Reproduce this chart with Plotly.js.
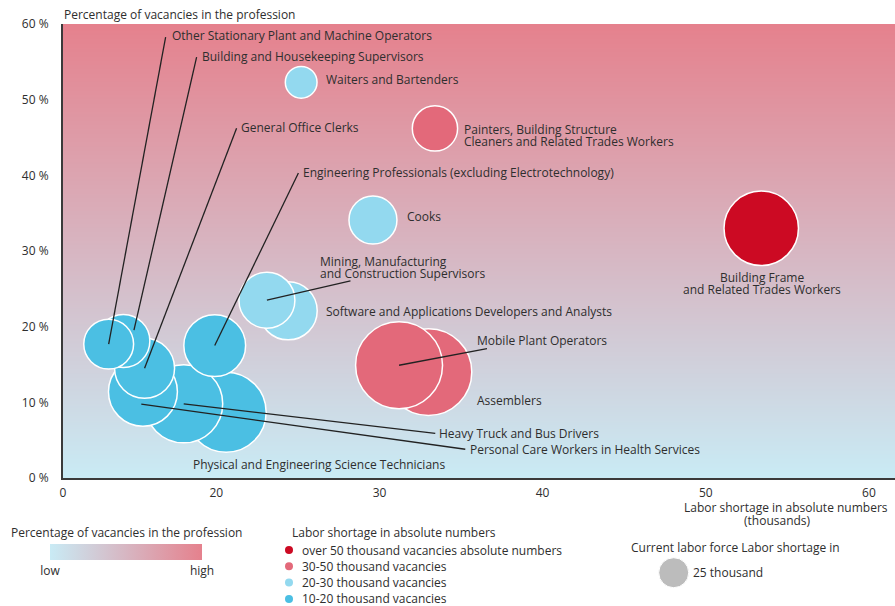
<!DOCTYPE html>
<html>
<head>
<meta charset="utf-8">
<script src="https://cdn.plot.ly/plotly-3.0.1.min.js"></script>
<style>html,body{margin:0;padding:0;background:#fff;}#chart{width:895px;height:606px;}</style>
</head>
<body>
<div id="chart"></div>
<script>
// ---------------- data ----------------
var occupations = [
  "Physical and Engineering Science Technicians",
  "Heavy Truck and Bus Drivers",
  "Personal Care Workers in Health Services",
  "General Office Clerks",
  "Building and Housekeeping Supervisors",
  "Other Stationary Plant and Machine Operators",
  "Engineering Professionals (excluding Electrotechnology)",
  "Software and Applications Developers and Analysts",
  "Mining, Manufacturing<br>and Construction Supervisors",
  "Waiters and Bartenders",
  "Cooks",
  "Painters, Building Structure<br>Cleaners and Related Trades Workers",
  "Assemblers",
  "Mobile Plant Operators",
  "Building Frame<br>and Related Trades Workers"
];
// labor shortage in absolute numbers (thousands)
var shortage = [20.6, 18.0, 15.5, 15.6, 14.3, 13.4, 19.9, 24.4, 23.1, 25.2, 29.6, 33.4, 33.0, 31.2, 53.4];
// percentage of vacancies in the profession
var vacancyPct = [8.7, 9.8, 11.4, 14.5, 18.1, 17.7, 17.5, 22.1, 23.5, 52.3, 34.1, 46.2, 14.0, 14.9, 33.0];
// current labor force (thousands) -> bubble area
var laborForce = [178, 169, 132, 100, 78, 69, 106, 94, 87, 28, 64, 57, 209, 210, 154];
// shortage category (0: 10-20, 1: 20-30, 2: 30-50, 3: over 50 thousand)
var category = [0, 0, 0, 0, 0, 0, 0, 1, 1, 1, 1, 2, 2, 2, 3];

var categoryLabels = [
  "over 50 thousand vacancies absolute numbers",
  "30-50 thousand vacancies",
  "20-30 thousand vacancies",
  "10-20 thousand vacancies"
];
var categoryOfLegendRow = [3, 2, 1, 0];

var xTickVals = [10.6, 20, 30, 40, 50, 60];
var xTickText = ["0", "20", "30", "40", "50", "60"];
var yTickVals = [0, 10, 20, 30, 40, 50, 60];
var yTickText = ["0 %", "10 %", "20 %", "30 %", "40 %", "50 %", "60 %"];

var gradientLevels = [0, 60];
var sizeLegendValue = [25];
var sizeLegendText = "25 thousand";

// ---------------- styles / layout helpers ----------------
var catColors = ["#4bbfe3", "#93d9ef", "#e3697a", "#cc0a23"];
var txt = "#2e2e2e";
var FONT = "'Open Sans', 'Noto Sans', sans-serif";
var FS = 12;
var LINE_GAP = 12;
var SIZEREF = 12.5 / 225; // 25 thousand -> 30px diameter

// label placement (data coords of main axes)
var labelPos = [
  {tx: 26.32, ty: 1.81, anchor: "center"},
  {tx: 33.61, ty: 5.91, line: [33.42, 5.91]},
  {tx: 35.51, ty: 3.80, line: [35.26, 3.80], start: [15.40, 9.75]},
  {tx: 21.42, ty: 46.38, line: [21.24, 46.22]},
  {tx: 19.03, ty: 55.77, line: [18.79, 55.63], start: [14.95, 19.53]},
  {tx: 17.20, ty: 58.54, line: [16.89, 58.28]},
  {tx: 25.26, ty: 40.39, line: [25.03, 40.30]},
  {tx: 26.69, ty: 22.04},
  {tx: 26.28, ty: 28.62, line: [28.22, 26.05]},
  {tx: 26.65, ty: 52.72},
  {tx: 31.65, ty: 34.52},
  {tx: 35.12, ty: 46.11},
  {tx: 35.92, ty: 10.27},
  {tx: 35.89, ty: 18.21, line: [36.59, 17.11]},
  {tx: 53.43, ty: 26.48, anchor: "center"}
];

var traces = [];

// gradient background (vacancy percentage)
traces.push({
  type: "heatmap",
  x: [0, 70],
  y: gradientLevels,
  z: gradientLevels.map(function (v) { return [v, v]; }),
  zmin: 0, zmax: 60,
  zsmooth: "best",
  colorscale: [[0, "#c9ebf5"], [0.5, "#d7b6c2"], [1, "#e5818d"]],
  hoverinfo: "skip",
  colorbar: {
    orientation: "h",
    lenmode: "pixels", len: 152,
    thickness: 16,
    x: 126 / 895, xanchor: "center",
    y: (606 - 577) / 582, yanchor: "bottom",
    xpad: 0, ypad: 0,
    outlinewidth: 0,
    tickvals: [0, 60], ticktext: ["low", "high"],
    ticks: "",
    tickfont: {family: FONT, size: FS, color: txt}
  },
  xaxis: "x", yaxis: "y"
});

// bubbles
traces.push({
  type: "scatter",
  mode: "markers",
  x: shortage,
  y: vacancyPct,
  text: occupations,
  marker: {
    size: laborForce,
    sizemode: "area",
    sizeref: SIZEREF,
    color: category.map(function (c) { return catColors[c]; }),
    opacity: 1,
    line: {color: "#ffffff", width: 1.5}
  },
  hoverinfo: "text",
  xaxis: "x", yaxis: "y"
});

// category legend dots (legend axes in pixel-like units)
var legRowY = categoryOfLegendRow.map(function (c, i) { return 550 + 16.3 * i; });
traces.push({
  type: "scatter", mode: "markers",
  x: categoryOfLegendRow.map(function () { return 289; }),
  y: legRowY,
  marker: {size: 8, color: categoryOfLegendRow.map(function (c) { return catColors[c]; })},
  hoverinfo: "skip",
  xaxis: "x2", yaxis: "y2"
});
// size legend bubble
traces.push({
  type: "scatter", mode: "markers",
  x: [673.7], y: [572.7],
  marker: {size: sizeLegendValue, sizemode: "area", sizeref: SIZEREF, color: "#a0a0a0"},
  hoverinfo: "skip",
  xaxis: "x2", yaxis: "y2"
});

var annotations = [];
var shapes = [];
function ann(o) {
  var base = {showarrow: false, font: {family: FONT, size: FS, color: txt}, xanchor: "left", yanchor: "middle", borderpad: 0};
  for (var k in o) base[k] = o[k];
  annotations.push(base);
}

occupations.forEach(function (name, i) {
  var p = labelPos[i];
  var lines = name.split("<br>");
  lines.forEach(function (ln, j) {
    ann({text: ln, x: p.tx, y: p.ty, xref: "x", yref: "y", xanchor: p.anchor || "left", yshift: -LINE_GAP * j});
  });
  if (p.line) {
    var s = p.start || [shortage[i], vacancyPct[i]];
    shapes.push({type: "line", xref: "x", yref: "y", x0: s[0], y0: s[1], x1: p.line[0], y1: p.line[1],
      line: {color: "#222222", width: 1.3}, layer: "above"});
  }
});

// axis titles & legend texts
ann({text: "Percentage of vacancies in the profession", x: 62.5 / 895, y: (606 - 14) / 582, xref: "paper", yref: "paper"});
ann({text: "Labor shortage in absolute numbers", x: 785.5, y: 507, xref: "x2", yref: "y2", xanchor: "center"});
ann({text: "(thousands)", x: 777, y: 520, xref: "x2", yref: "y2", xanchor: "center"});
ann({text: "Percentage of vacancies in the profession", x: 126, y: 532, xref: "x2", yref: "y2", xanchor: "center"});
ann({text: "Labor shortage in absolute numbers", x: 290.5, y: 532, xref: "x2", yref: "y2"});
categoryOfLegendRow.forEach(function (c, i) {
  ann({text: categoryLabels[i], x: 301, y: legRowY[i], xref: "x2", yref: "y2"});
});
ann({text: "Current labor force Labor shortage in", x: 630, y: 547, xref: "x2", yref: "y2"});
ann({text: sizeLegendText, x: 691.5, y: 572.5, xref: "x2", yref: "y2"});

var layout = {
  width: 895, height: 606,
  margin: {l: 0, r: 0, t: 24, b: 0, pad: 0},
  paper_bgcolor: "#ffffff",
  plot_bgcolor: "rgba(0,0,0,0)",
  showlegend: false,
  font: {family: FONT, size: FS, color: txt},
  xaxis: {
    domain: [63 / 895, 1], range: [10.6, 61.6], anchor: "y",
    tickvals: xTickVals, ticktext: xTickText,
    showgrid: false, zeroline: false,
    showline: true, linecolor: "#3a3a3a", linewidth: 2,
    ticks: "outside", ticklen: 3, tickcolor: "rgba(0,0,0,0)",
    tickfont: {family: FONT, size: FS, color: txt},
    fixedrange: true
  },
  yaxis: {
    domain: [(606 - 478) / 582, 1], range: [0, 60], anchor: "x",
    tickvals: yTickVals, ticktext: yTickText,
    showgrid: false, zeroline: false,
    showline: true, linecolor: "#3a3a3a", linewidth: 2,
    ticks: "outside", ticklen: 10, tickcolor: "rgba(0,0,0,0)",
    tickfont: {family: FONT, size: FS, color: txt},
    fixedrange: true
  },
  xaxis2: {domain: [0, 1], range: [0, 895], anchor: "y2", visible: false, fixedrange: true},
  yaxis2: {domain: [0, 0.2], range: [606, 606 - 0.2 * 582], anchor: "x2", visible: false, fixedrange: true},
  annotations: annotations,
  shapes: shapes
};

Plotly.newPlot("chart", traces, layout, {displayModeBar: false, staticPlot: true});
</script>
</body>
</html>
